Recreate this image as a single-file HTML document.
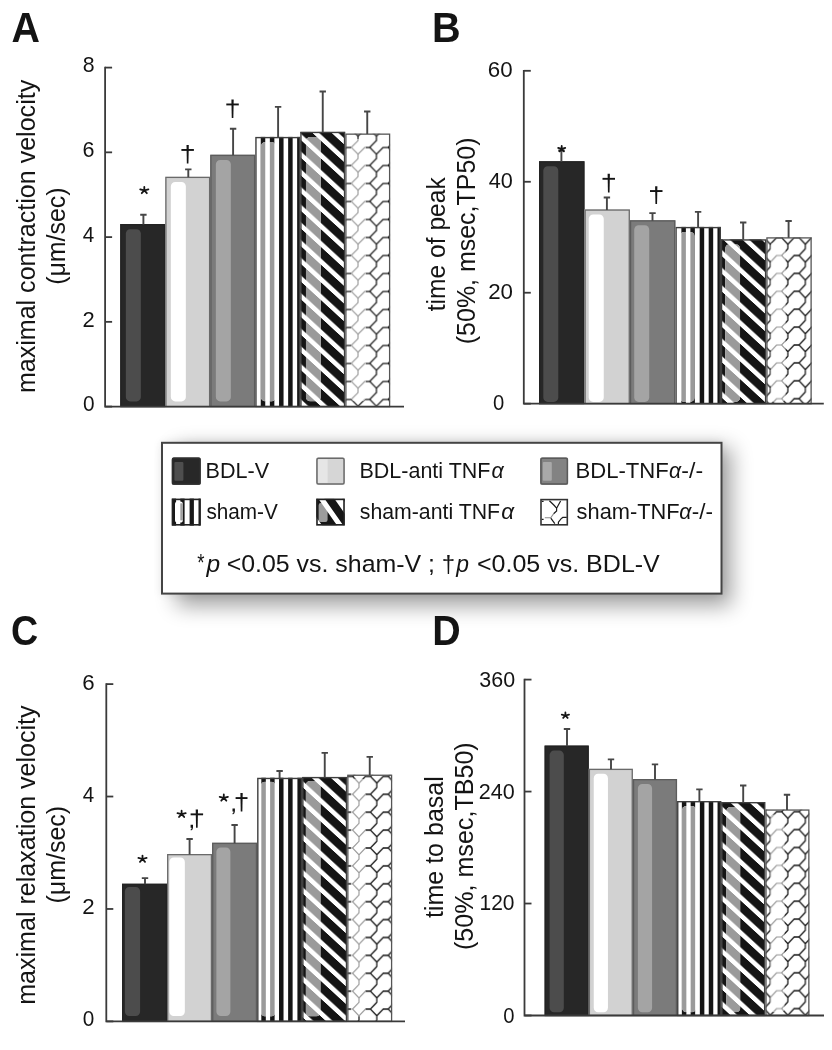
<!DOCTYPE html>
<html><head><meta charset="utf-8"><title>figure</title>
<style>
html,body{margin:0;padding:0;background:#fff;}
body{width:832px;height:1050px;overflow:hidden;}
svg{display:block;will-change:transform;}
text{font-family:"Liberation Sans", sans-serif;fill:#141414;}
</style></head><body>
<svg width="832" height="1050" viewBox="0 0 832 1050">
<defs><clipPath id="c1"><path d="M265.25,142.1H271.45A4.4,4.4 0 0 1 275.85,146.5V397A4.4,4.4 0 0 1 271.45,401.4H265.25A4.4,4.4 0 0 1 260.85,397V146.5A4.4,4.4 0 0 1 265.25,142.1Z"/></clipPath><clipPath id="c2"><rect x="300.25" y="131.75" width="45" height="274.85"/></clipPath><pattern id="dp3" patternUnits="userSpaceOnUse" width="19.24" height="17.7" patternTransform="translate(300.25,121.75) skewY(42.61)"><rect x="0" y="0" width="19.24" height="11.4" fill="#151515"/></pattern><pattern id="dp4" patternUnits="userSpaceOnUse" width="19.24" height="17.7" patternTransform="translate(300.25,121.75) skewY(42.61)"><rect x="0" y="0" width="19.24" height="11.4" fill="#9a9a9a"/></pattern><clipPath id="c5"><path d="M310.25,136.95H316.45A4.4,4.4 0 0 1 320.85,141.35V397A4.4,4.4 0 0 1 316.45,401.4H310.25A4.4,4.4 0 0 1 305.85,397V141.35A4.4,4.4 0 0 1 310.25,136.95Z"/></clipPath><clipPath id="c6"><rect x="345.25" y="133.5" width="45" height="273.1"/></clipPath><pattern id="lp7" patternUnits="userSpaceOnUse" width="18.4" height="18" patternTransform="translate(358.05,309.4)"><path d="M6.7,0H11.7M6.7,18H11.7M0,6.8V11.2M18.4,6.8V11.2M11.7,0L18.4,6.8M6.7,0L0,6.8M11.7,18L18.4,11.2" stroke="#151515" stroke-width="1.25" fill="none" stroke-linecap="square"/></pattern><pattern id="lp8" patternUnits="userSpaceOnUse" width="18.4" height="18" patternTransform="translate(358.05,309.4)"><path d="M6.7,0H11.7M6.7,18H11.7M0,6.8V11.2M18.4,6.8V11.2M11.7,0L18.4,6.8M6.7,0L0,6.8M11.7,18L18.4,11.2" stroke="#969696" stroke-width="1.1" fill="none" stroke-linecap="square"/></pattern><clipPath id="c9"><path d="M355.25,138.7H361.45A4.4,4.4 0 0 1 365.85,143.1V397A4.4,4.4 0 0 1 361.45,401.4H355.25A4.4,4.4 0 0 1 350.85,397V143.1A4.4,4.4 0 0 1 355.25,138.7Z"/></clipPath><clipPath id="c10"><path d="M684.08,231.9H690.28A4.4,4.4 0 0 1 694.68,236.3V397.5A4.4,4.4 0 0 1 690.28,401.9H684.08A4.4,4.4 0 0 1 679.68,397.5V236.3A4.4,4.4 0 0 1 684.08,231.9Z"/></clipPath><clipPath id="c11"><rect x="720.84" y="239.25" width="45.46" height="164.45"/></clipPath><pattern id="dp12" patternUnits="userSpaceOnUse" width="19.24" height="17.7" patternTransform="translate(720.84,237.55) skewY(42.61)"><rect x="0" y="0" width="19.24" height="11.4" fill="#151515"/></pattern><pattern id="dp13" patternUnits="userSpaceOnUse" width="19.24" height="17.7" patternTransform="translate(720.84,237.55) skewY(42.61)"><rect x="0" y="0" width="19.24" height="11.4" fill="#9a9a9a"/></pattern><clipPath id="c14"><path d="M729.54,244.25H735.74A4.4,4.4 0 0 1 740.14,248.65V397.5A4.4,4.4 0 0 1 735.74,401.9H729.54A4.4,4.4 0 0 1 725.14,397.5V248.65A4.4,4.4 0 0 1 729.54,244.25Z"/></clipPath><clipPath id="c15"><rect x="766.3" y="237.25" width="45.46" height="166.45"/></clipPath><pattern id="lp16" patternUnits="userSpaceOnUse" width="17.5" height="17.9" patternTransform="translate(787.85,309.2)"><path d="M6.25,0H11.25M6.25,17.9H11.25M0,6.75V11.15M17.5,6.75V11.15M11.25,0L17.5,6.75M6.25,0L0,6.75M11.25,17.9L17.5,11.15" stroke="#151515" stroke-width="1.25" fill="none" stroke-linecap="square"/></pattern><pattern id="lp17" patternUnits="userSpaceOnUse" width="17.5" height="17.9" patternTransform="translate(787.85,309.2)"><path d="M6.25,0H11.25M6.25,17.9H11.25M0,6.75V11.15M17.5,6.75V11.15M11.25,0L17.5,6.75M6.25,0L0,6.75M11.25,17.9L17.5,11.15" stroke="#969696" stroke-width="1.1" fill="none" stroke-linecap="square"/></pattern><clipPath id="c18"><path d="M775,242.25H781.2A4.4,4.4 0 0 1 785.6,246.65V397.5A4.4,4.4 0 0 1 781.2,401.9H775A4.4,4.4 0 0 1 770.6,397.5V246.65A4.4,4.4 0 0 1 775,242.25Z"/></clipPath><clipPath id="c19"><path d="M265.02,781.75H271.22A4.4,4.4 0 0 1 275.62,786.15V1012A4.4,4.4 0 0 1 271.22,1016.4H265.02A4.4,4.4 0 0 1 260.62,1012V786.15A4.4,4.4 0 0 1 265.02,781.75Z"/></clipPath><clipPath id="c20"><rect x="302.16" y="776.9" width="45.04" height="244.5"/></clipPath><pattern id="dp21" patternUnits="userSpaceOnUse" width="19.24" height="17.7" patternTransform="translate(302.16,769.1) skewY(42.61)"><rect x="0" y="0" width="19.24" height="11.4" fill="#151515"/></pattern><pattern id="dp22" patternUnits="userSpaceOnUse" width="19.24" height="17.7" patternTransform="translate(302.16,769.1) skewY(42.61)"><rect x="0" y="0" width="19.24" height="11.4" fill="#9a9a9a"/></pattern><clipPath id="c23"><path d="M310.06,780.9H316.26A4.4,4.4 0 0 1 320.66,785.3V1012A4.4,4.4 0 0 1 316.26,1016.4H310.06A4.4,4.4 0 0 1 305.66,1012V785.3A4.4,4.4 0 0 1 310.06,780.9Z"/></clipPath><clipPath id="c24"><rect x="347.2" y="774.6" width="45.04" height="246.8"/></clipPath><pattern id="lp25" patternUnits="userSpaceOnUse" width="17.8" height="17.9" patternTransform="translate(359,901.7)"><path d="M6.4,0H11.4M6.4,17.9H11.4M0,6.75V11.15M17.8,6.75V11.15M11.4,0L17.8,6.75M6.4,0L0,6.75M11.4,17.9L17.8,11.15" stroke="#151515" stroke-width="1.25" fill="none" stroke-linecap="square"/></pattern><pattern id="lp26" patternUnits="userSpaceOnUse" width="17.8" height="17.9" patternTransform="translate(359,901.7)"><path d="M6.4,0H11.4M6.4,17.9H11.4M0,6.75V11.15M17.8,6.75V11.15M11.4,0L17.8,6.75M6.4,0L0,6.75M11.4,17.9L17.8,11.15" stroke="#969696" stroke-width="1.1" fill="none" stroke-linecap="square"/></pattern><clipPath id="c27"><path d="M355.1,778.6H361.3A4.4,4.4 0 0 1 365.7,783V1012A4.4,4.4 0 0 1 361.3,1016.4H355.1A4.4,4.4 0 0 1 350.7,1012V783A4.4,4.4 0 0 1 355.1,778.6Z"/></clipPath><clipPath id="c28"><path d="M686.45,806H691.85A4.4,4.4 0 0 1 696.25,810.4V1007.8A4.4,4.4 0 0 1 691.85,1012.2H686.45A4.4,4.4 0 0 1 682.05,1007.8V810.4A4.4,4.4 0 0 1 686.45,806Z"/></clipPath><clipPath id="c29"><rect x="721.2" y="802" width="44.15" height="213.5"/></clipPath><pattern id="dp30" patternUnits="userSpaceOnUse" width="19.24" height="17.7" patternTransform="translate(721.2,794.2) skewY(42.61)"><rect x="0" y="0" width="19.24" height="11.4" fill="#151515"/></pattern><pattern id="dp31" patternUnits="userSpaceOnUse" width="19.24" height="17.7" patternTransform="translate(721.2,794.2) skewY(42.61)"><rect x="0" y="0" width="19.24" height="11.4" fill="#9a9a9a"/></pattern><clipPath id="c32"><path d="M730.6,807H736A4.4,4.4 0 0 1 740.4,811.4V1007.8A4.4,4.4 0 0 1 736,1012.2H730.6A4.4,4.4 0 0 1 726.2,1007.8V811.4A4.4,4.4 0 0 1 730.6,807Z"/></clipPath><clipPath id="c33"><rect x="765.35" y="809.4" width="44.15" height="206.1"/></clipPath><pattern id="lp34" patternUnits="userSpaceOnUse" width="17.5" height="17.9" patternTransform="translate(787.85,847.5)"><path d="M6.25,0H11.25M6.25,17.9H11.25M0,6.75V11.15M17.5,6.75V11.15M11.25,0L17.5,6.75M6.25,0L0,6.75M11.25,17.9L17.5,11.15" stroke="#151515" stroke-width="1.25" fill="none" stroke-linecap="square"/></pattern><pattern id="lp35" patternUnits="userSpaceOnUse" width="17.5" height="17.9" patternTransform="translate(787.85,847.5)"><path d="M6.25,0H11.25M6.25,17.9H11.25M0,6.75V11.15M17.5,6.75V11.15M11.25,0L17.5,6.75M6.25,0L0,6.75M11.25,17.9L17.5,11.15" stroke="#969696" stroke-width="1.1" fill="none" stroke-linecap="square"/></pattern><clipPath id="c36"><path d="M774.75,814.4H780.15A4.4,4.4 0 0 1 784.55,818.8V1007.8A4.4,4.4 0 0 1 780.15,1012.2H774.75A4.4,4.4 0 0 1 770.35,1007.8V818.8A4.4,4.4 0 0 1 774.75,814.4Z"/></clipPath><filter id="shadow" x="-20%" y="-40%" width="150%" height="200%"><feGaussianBlur stdDeviation="10.5"/></filter><filter id="glow" x="-20%" y="-40%" width="150%" height="200%"><feGaussianBlur stdDeviation="5"/></filter><clipPath id="c37"><rect x="316.2" y="498.6" width="28.6" height="27"/></clipPath></defs>
<rect width="832" height="1050" fill="#fff"/>
<rect x="120.25" y="224" width="45" height="182.6" fill="#272727"/><path d="M130.25,229.2H136.45A4.4,4.4 0 0 1 140.85,233.6V397A4.4,4.4 0 0 1 136.45,401.4H130.25A4.4,4.4 0 0 1 125.85,397V233.6A4.4,4.4 0 0 1 130.25,229.2Z" fill="#4c4c4c"/><rect x="120.9" y="224.65" width="43.7" height="181.95" fill="none" stroke="#232323" stroke-width="1.3"/><rect x="165.25" y="176.75" width="45" height="229.85" fill="#d2d2d2"/><path d="M175.25,181.95H181.45A4.4,4.4 0 0 1 185.85,186.35V397A4.4,4.4 0 0 1 181.45,401.4H175.25A4.4,4.4 0 0 1 170.85,397V186.35A4.4,4.4 0 0 1 175.25,181.95Z" fill="#ffffff"/><rect x="165.9" y="177.4" width="43.7" height="229.2" fill="none" stroke="#6a6a6a" stroke-width="1.3"/><rect x="210.25" y="154.75" width="45" height="251.85" fill="#7b7b7b"/><path d="M220.25,159.95H226.45A4.4,4.4 0 0 1 230.85,164.35V397A4.4,4.4 0 0 1 226.45,401.4H220.25A4.4,4.4 0 0 1 215.85,397V164.35A4.4,4.4 0 0 1 220.25,159.95Z" fill="#a4a4a4"/><rect x="210.9" y="155.4" width="43.7" height="251.2" fill="none" stroke="#5c5c5c" stroke-width="1.3"/><rect x="255.25" y="136.9" width="45" height="269.7" fill="#fff"/><rect x="260.75" y="136.9" width="4.5" height="269.7" fill="#151515"/><rect x="269.85" y="136.9" width="4.5" height="269.7" fill="#151515"/><rect x="279.05" y="136.9" width="4.5" height="269.7" fill="#151515"/><rect x="288.15" y="136.9" width="4.5" height="269.7" fill="#151515"/><rect x="297.15" y="136.9" width="3.1" height="269.7" fill="#151515"/><g clip-path="url(#c1)"><rect x="260.85" y="142.1" width="15" height="259.3" fill="#fff"/><rect x="260.75" y="136.9" width="4.5" height="269.7" fill="#9a9a9a"/><rect x="269.85" y="136.9" width="4.5" height="269.7" fill="#9a9a9a"/><rect x="279.05" y="136.9" width="4.5" height="269.7" fill="#9a9a9a"/><rect x="288.15" y="136.9" width="4.5" height="269.7" fill="#9a9a9a"/><rect x="297.15" y="136.9" width="3.1" height="269.7" fill="#9a9a9a"/></g><rect x="255.95" y="137.6" width="43.6" height="269" fill="none" stroke="#3e3e3e" stroke-width="1.4"/><g clip-path="url(#c2)"><rect x="300.25" y="131.75" width="45" height="274.85" fill="#fff"/><rect x="300.25" y="131.75" width="45" height="274.85" fill="url(#dp3)"/></g><g clip-path="url(#c5)"><rect x="305.85" y="136.95" width="15" height="264.45" fill="#fff"/><rect x="305.85" y="136.95" width="15" height="264.45" fill="url(#dp4)"/></g><rect x="300.95" y="132.45" width="43.6" height="274.15" fill="none" stroke="#3e3e3e" stroke-width="1.4"/><g clip-path="url(#c6)"><rect x="345.25" y="133.5" width="45" height="273.1" fill="#fff"/><rect x="345.25" y="133.5" width="45" height="273.1" fill="url(#lp7)"/></g><g clip-path="url(#c9)"><rect x="350.85" y="138.7" width="15" height="262.7" fill="#fff"/><rect x="350.85" y="138.7" width="15" height="262.7" fill="url(#lp8)"/></g><rect x="345.9" y="134.15" width="43.7" height="272.45" fill="none" stroke="#555" stroke-width="1.3"/><path d="M143.4,224.6V214.8M140.2,214.8H146.6" stroke="#464646" stroke-width="1.9" fill="none"/><path d="M188.3,177.35V169.4M185.1,169.4H191.5" stroke="#464646" stroke-width="1.9" fill="none"/><path d="M233.1,155.35V128.75M229.9,128.75H236.3" stroke="#464646" stroke-width="1.9" fill="none"/><path d="M278.1,137.5V106.9M274.9,106.9H281.3" stroke="#464646" stroke-width="1.9" fill="none"/><path d="M322.75,132.35V91.5M319.55,91.5H325.95" stroke="#464646" stroke-width="1.9" fill="none"/><path d="M367.25,134.1V111.5M364.05,111.5H370.45" stroke="#464646" stroke-width="1.9" fill="none"/><path d="M105.1,66.7V406.6H404" stroke="#3a3a3a" stroke-width="1.8" fill="none"/><path d="M105.1,406.6H112.1" stroke="#3a3a3a" stroke-width="1.8"/><path d="M105.1,321.85H112.1" stroke="#3a3a3a" stroke-width="1.8"/><path d="M105.1,237.1H112.1" stroke="#3a3a3a" stroke-width="1.8"/><path d="M105.1,152.35H112.1" stroke="#3a3a3a" stroke-width="1.8"/><path d="M105.1,67.6H112.1" stroke="#3a3a3a" stroke-width="1.8"/><text x="82.69" y="72.2" font-size="22.5" font-family='"Liberation Sans", sans-serif' textLength="11.83" lengthAdjust="spacingAndGlyphs">8</text><text x="82.57" y="156.7" font-size="22.5" font-family='"Liberation Sans", sans-serif' textLength="11.96" lengthAdjust="spacingAndGlyphs">6</text><text x="82.84" y="241.6" font-size="22.5" font-family='"Liberation Sans", sans-serif' textLength="11.45" lengthAdjust="spacingAndGlyphs">4</text><text x="82.55" y="326.6" font-size="22.5" font-family='"Liberation Sans", sans-serif' textLength="12.22" lengthAdjust="spacingAndGlyphs">2</text><text x="82.92" y="411" font-size="22.5" font-family='"Liberation Sans", sans-serif' textLength="11.59" lengthAdjust="spacingAndGlyphs">0</text><text transform="translate(35,391.9) rotate(-90)" x="-1.23" y="0" font-size="25" font-family='"Liberation Sans", sans-serif' textLength="313.32" lengthAdjust="spacingAndGlyphs">maximal contraction velocity</text><text transform="translate(65,283.75) rotate(-90)" x="-1.09" y="0" font-size="25" font-family='"Liberation Sans", sans-serif' textLength="97.29" lengthAdjust="spacingAndGlyphs">(μm/sec)</text><text x="11.41" y="41.5" font-size="43.2" font-family='"Liberation Sans", sans-serif' font-weight="bold" textLength="28.46" lengthAdjust="spacingAndGlyphs" fill="#1e1e1e">A</text><path d="M144.3,190.4L144.3,186.96M144.3,190.4L148.41,189.34M144.3,190.4L146.84,193.18M144.3,190.4L141.76,193.18M144.3,190.4L140.19,189.34" stroke="#141414" stroke-width="1.8" stroke-linecap="round" fill="none"/><path d="M186.5,144.9h2.3l-0.35,18.7h-1.6z" fill="#141414"/><path d="M181.4,149.95H193.9" stroke="#141414" stroke-width="1.9" fill="none"/><path d="M231.4,99.4h2.3l-0.35,18.7h-1.6z" fill="#141414"/><path d="M226.3,104.45H238.8" stroke="#141414" stroke-width="1.9" fill="none"/><rect x="539" y="161.25" width="45.46" height="242.45" fill="#272727"/><path d="M547.7,166.25H553.9A4.4,4.4 0 0 1 558.3,170.65V397.5A4.4,4.4 0 0 1 553.9,401.9H547.7A4.4,4.4 0 0 1 543.3,397.5V170.65A4.4,4.4 0 0 1 547.7,166.25Z" fill="#4c4c4c"/><rect x="539.65" y="161.9" width="44.16" height="241.8" fill="none" stroke="#232323" stroke-width="1.3"/><rect x="584.46" y="209.4" width="45.46" height="194.3" fill="#d2d2d2"/><path d="M593.16,214.4H599.36A4.4,4.4 0 0 1 603.76,218.8V397.5A4.4,4.4 0 0 1 599.36,401.9H593.16A4.4,4.4 0 0 1 588.76,397.5V218.8A4.4,4.4 0 0 1 593.16,214.4Z" fill="#ffffff"/><rect x="585.11" y="210.05" width="44.16" height="193.65" fill="none" stroke="#6a6a6a" stroke-width="1.3"/><rect x="629.92" y="220.25" width="45.46" height="183.45" fill="#7b7b7b"/><path d="M638.62,225.25H644.82A4.4,4.4 0 0 1 649.22,229.65V397.5A4.4,4.4 0 0 1 644.82,401.9H638.62A4.4,4.4 0 0 1 634.22,397.5V229.65A4.4,4.4 0 0 1 638.62,225.25Z" fill="#a4a4a4"/><rect x="630.57" y="220.9" width="44.16" height="182.8" fill="none" stroke="#5c5c5c" stroke-width="1.3"/><rect x="675.38" y="226.9" width="45.46" height="176.8" fill="#fff"/><rect x="681.38" y="226.9" width="4.5" height="176.8" fill="#151515"/><rect x="690.38" y="226.9" width="4.5" height="176.8" fill="#151515"/><rect x="699.68" y="226.9" width="4.5" height="176.8" fill="#151515"/><rect x="708.68" y="226.9" width="4.5" height="176.8" fill="#151515"/><rect x="717.48" y="226.9" width="3.36" height="176.8" fill="#151515"/><g clip-path="url(#c10)"><rect x="679.68" y="231.9" width="15" height="170" fill="#fff"/><rect x="681.38" y="226.9" width="4.5" height="176.8" fill="#9a9a9a"/><rect x="690.38" y="226.9" width="4.5" height="176.8" fill="#9a9a9a"/><rect x="699.68" y="226.9" width="4.5" height="176.8" fill="#9a9a9a"/><rect x="708.68" y="226.9" width="4.5" height="176.8" fill="#9a9a9a"/><rect x="717.48" y="226.9" width="3.36" height="176.8" fill="#9a9a9a"/></g><rect x="676.08" y="227.6" width="44.06" height="176.1" fill="none" stroke="#3e3e3e" stroke-width="1.4"/><g clip-path="url(#c11)"><rect x="720.84" y="239.25" width="45.46" height="164.45" fill="#fff"/><rect x="720.84" y="239.25" width="45.46" height="164.45" fill="url(#dp12)"/></g><g clip-path="url(#c14)"><rect x="725.14" y="244.25" width="15" height="157.65" fill="#fff"/><rect x="725.14" y="244.25" width="15" height="157.65" fill="url(#dp13)"/></g><rect x="721.54" y="239.95" width="44.06" height="163.75" fill="none" stroke="#3e3e3e" stroke-width="1.4"/><g clip-path="url(#c15)"><rect x="766.3" y="237.25" width="45.46" height="166.45" fill="#fff"/><rect x="766.3" y="237.25" width="45.46" height="166.45" fill="url(#lp16)"/></g><g clip-path="url(#c18)"><rect x="770.6" y="242.25" width="15" height="159.65" fill="#fff"/><rect x="770.6" y="242.25" width="15" height="159.65" fill="url(#lp17)"/></g><rect x="766.95" y="237.9" width="44.16" height="165.8" fill="none" stroke="#555" stroke-width="1.3"/><path d="M561.4,161.85V150.5M558.2,150.5H564.6" stroke="#464646" stroke-width="1.9" fill="none"/><path d="M606.9,210V197.5M603.7,197.5H610.1" stroke="#464646" stroke-width="1.9" fill="none"/><path d="M652.5,220.85V213.1M649.3,213.1H655.7" stroke="#464646" stroke-width="1.9" fill="none"/><path d="M698.1,227.5V211.9M694.9,211.9H701.3" stroke="#464646" stroke-width="1.9" fill="none"/><path d="M743.2,239.85V222.5M740,222.5H746.4" stroke="#464646" stroke-width="1.9" fill="none"/><path d="M788.6,237.85V221M785.4,221H791.8" stroke="#464646" stroke-width="1.9" fill="none"/><path d="M523.8,69.9V403.7H823.8" stroke="#3a3a3a" stroke-width="1.8" fill="none"/><path d="M523.8,403.7H530.8" stroke="#3a3a3a" stroke-width="1.8"/><path d="M523.8,292.73H530.8" stroke="#3a3a3a" stroke-width="1.8"/><path d="M523.8,181.77H530.8" stroke="#3a3a3a" stroke-width="1.8"/><path d="M523.8,70.8H530.8" stroke="#3a3a3a" stroke-width="1.8"/><text x="487.79" y="77.2" font-size="22.5" font-family='"Liberation Sans", sans-serif' textLength="24.8" lengthAdjust="spacingAndGlyphs">60</text><text x="488.82" y="187.8" font-size="22.5" font-family='"Liberation Sans", sans-serif' textLength="24.09" lengthAdjust="spacingAndGlyphs">40</text><text x="488.14" y="299.3" font-size="22.5" font-family='"Liberation Sans", sans-serif' textLength="24.8" lengthAdjust="spacingAndGlyphs">20</text><text x="493.09" y="409.7" font-size="22.5" font-family='"Liberation Sans", sans-serif' textLength="11.24" lengthAdjust="spacingAndGlyphs">0</text><text transform="translate(445.4,311.25) rotate(-90)" x="0.03" y="0" font-size="25" font-family='"Liberation Sans", sans-serif' textLength="133.98" lengthAdjust="spacingAndGlyphs">time of peak</text><text transform="translate(475,343.1) rotate(-90)" x="-1.1" y="0" font-size="25" font-family='"Liberation Sans", sans-serif' textLength="206.68" lengthAdjust="spacingAndGlyphs">(50%, msec,TP50)</text><text x="432.12" y="41.5" font-size="43.2" font-family='"Liberation Sans", sans-serif' font-weight="bold" textLength="28.65" lengthAdjust="spacingAndGlyphs" fill="#1e1e1e">B</text><path d="M561.7,148.9L561.7,145.94M561.7,148.9L565.23,147.99M561.7,148.9L563.88,151.29M561.7,148.9L559.52,151.29M561.7,148.9L558.17,147.99" stroke="#141414" stroke-width="1.8" stroke-linecap="round" fill="none"/><path d="M607.6,173.75h2.3l-0.35,18.75h-1.6z" fill="#141414"/><path d="M602.5,178.81H615" stroke="#141414" stroke-width="1.9" fill="none"/><path d="M655.1,186.25h2.3l-0.35,17.75h-1.6z" fill="#141414"/><path d="M650,191.04H662.5" stroke="#141414" stroke-width="1.9" fill="none"/><rect x="122" y="883.75" width="45.04" height="137.65" fill="#272727"/><path d="M129.3,886.95H135.7A4.4,4.4 0 0 1 140.1,891.35V1011.6A4.4,4.4 0 0 1 135.7,1016H129.3A4.4,4.4 0 0 1 124.9,1011.6V891.35A4.4,4.4 0 0 1 129.3,886.95Z" fill="#4c4c4c"/><rect x="122.65" y="884.4" width="43.74" height="137" fill="none" stroke="#232323" stroke-width="1.3"/><rect x="167.04" y="854" width="45.04" height="167.4" fill="#d2d2d2"/><path d="M173.74,857.5H180.44A4.4,4.4 0 0 1 184.84,861.9V1011.6A4.4,4.4 0 0 1 180.44,1016H173.74A4.4,4.4 0 0 1 169.34,1011.6V861.9A4.4,4.4 0 0 1 173.74,857.5Z" fill="#ffffff"/><rect x="167.69" y="854.65" width="43.74" height="166.75" fill="none" stroke="#6a6a6a" stroke-width="1.3"/><rect x="212.08" y="842.75" width="45.04" height="178.65" fill="#7b7b7b"/><path d="M220.78,847.45H225.98A4.4,4.4 0 0 1 230.38,851.85V1011.6A4.4,4.4 0 0 1 225.98,1016H220.78A4.4,4.4 0 0 1 216.38,1011.6V851.85A4.4,4.4 0 0 1 220.78,847.45Z" fill="#a4a4a4"/><rect x="212.73" y="843.4" width="43.74" height="178" fill="none" stroke="#5c5c5c" stroke-width="1.3"/><rect x="257.12" y="777.75" width="45.04" height="243.65" fill="#fff"/><rect x="261.32" y="777.75" width="4.5" height="243.65" fill="#151515"/><rect x="270.12" y="777.75" width="4.5" height="243.65" fill="#151515"/><rect x="279.02" y="777.75" width="4.5" height="243.65" fill="#151515"/><rect x="288.12" y="777.75" width="4.5" height="243.65" fill="#151515"/><rect x="297.42" y="777.75" width="4.5" height="243.65" fill="#151515"/><g clip-path="url(#c19)"><rect x="260.62" y="781.75" width="15" height="234.65" fill="#fff"/><rect x="261.32" y="777.75" width="4.5" height="243.65" fill="#9a9a9a"/><rect x="270.12" y="777.75" width="4.5" height="243.65" fill="#9a9a9a"/><rect x="279.02" y="777.75" width="4.5" height="243.65" fill="#9a9a9a"/><rect x="288.12" y="777.75" width="4.5" height="243.65" fill="#9a9a9a"/><rect x="297.42" y="777.75" width="4.5" height="243.65" fill="#9a9a9a"/></g><rect x="257.82" y="778.45" width="43.64" height="242.95" fill="none" stroke="#3e3e3e" stroke-width="1.4"/><g clip-path="url(#c20)"><rect x="302.16" y="776.9" width="45.04" height="244.5" fill="#fff"/><rect x="302.16" y="776.9" width="45.04" height="244.5" fill="url(#dp21)"/></g><g clip-path="url(#c23)"><rect x="305.66" y="780.9" width="15" height="235.5" fill="#fff"/><rect x="305.66" y="780.9" width="15" height="235.5" fill="url(#dp22)"/></g><rect x="302.86" y="777.6" width="43.64" height="243.8" fill="none" stroke="#3e3e3e" stroke-width="1.4"/><g clip-path="url(#c24)"><rect x="347.2" y="774.6" width="45.04" height="246.8" fill="#fff"/><rect x="347.2" y="774.6" width="45.04" height="246.8" fill="url(#lp25)"/></g><g clip-path="url(#c27)"><rect x="350.7" y="778.6" width="15" height="237.8" fill="#fff"/><rect x="350.7" y="778.6" width="15" height="237.8" fill="url(#lp26)"/></g><rect x="347.85" y="775.25" width="43.74" height="246.15" fill="none" stroke="#555" stroke-width="1.3"/><path d="M145,884.35V878.1M141.8,878.1H148.2" stroke="#464646" stroke-width="1.9" fill="none"/><path d="M189.6,854.6V839M186.4,839H192.8" stroke="#464646" stroke-width="1.9" fill="none"/><path d="M234.6,843.35V825M231.4,825H237.8" stroke="#464646" stroke-width="1.9" fill="none"/><path d="M279.6,778.35V771M276.4,771H282.8" stroke="#464646" stroke-width="1.9" fill="none"/><path d="M324.75,777.5V752.9M321.55,752.9H327.95" stroke="#464646" stroke-width="1.9" fill="none"/><path d="M369.75,775.2V756.9M366.55,756.9H372.95" stroke="#464646" stroke-width="1.9" fill="none"/><path d="M106.3,683.2V1021.4H405" stroke="#3a3a3a" stroke-width="1.8" fill="none"/><path d="M106.3,1021.4H113.3" stroke="#3a3a3a" stroke-width="1.8"/><path d="M106.3,908.97H113.3" stroke="#3a3a3a" stroke-width="1.8"/><path d="M106.3,796.53H113.3" stroke="#3a3a3a" stroke-width="1.8"/><path d="M106.3,684.1H113.3" stroke="#3a3a3a" stroke-width="1.8"/><text x="82.14" y="689.7" font-size="22.5" font-family='"Liberation Sans", sans-serif' textLength="12.38" lengthAdjust="spacingAndGlyphs">6</text><text x="82.84" y="801.6" font-size="22.5" font-family='"Liberation Sans", sans-serif' textLength="11.4" lengthAdjust="spacingAndGlyphs">4</text><text x="82.33" y="914.1" font-size="22.5" font-family='"Liberation Sans", sans-serif' textLength="12.41" lengthAdjust="spacingAndGlyphs">2</text><text x="82.82" y="1026.4" font-size="22.5" font-family='"Liberation Sans", sans-serif' textLength="11.53" lengthAdjust="spacingAndGlyphs">0</text><text transform="translate(34.8,1003.6) rotate(-90)" x="-1.23" y="0" font-size="25" font-family='"Liberation Sans", sans-serif' textLength="299.41" lengthAdjust="spacingAndGlyphs">maximal relaxation velocity</text><text transform="translate(64.5,902.4) rotate(-90)" x="-1.1" y="0" font-size="25" font-family='"Liberation Sans", sans-serif' textLength="97.6" lengthAdjust="spacingAndGlyphs">(μm/sec)</text><text x="10.89" y="645.2" font-size="43.2" font-family='"Liberation Sans", sans-serif' font-weight="bold" textLength="27.23" lengthAdjust="spacingAndGlyphs" fill="#1e1e1e">C</text><path d="M142.5,859L142.5,855.56M142.5,859L146.61,857.94M142.5,859L145.04,861.78M142.5,859L139.96,861.78M142.5,859L138.39,857.94" stroke="#141414" stroke-width="1.8" stroke-linecap="round" fill="none"/><path d="M181.6,814.2L181.6,810.76M181.6,814.2L185.71,813.14M181.6,814.2L184.14,816.98M181.6,814.2L179.06,816.98M181.6,814.2L177.49,813.14" stroke="#141414" stroke-width="1.8" stroke-linecap="round" fill="none"/><path d="M190.6,824.8h2.4v2.6q0,2.2 -2.0,3.2l-0.5,-0.8q1.2,-0.6 1.2,-2.0h-1.1z" fill="#141414"/><path d="M195.7,809.4h2.3l-0.35,18.35h-1.6z" fill="#141414"/><path d="M190.6,814.35H203.1" stroke="#141414" stroke-width="1.9" fill="none"/><path d="M223.8,797.9L223.8,794.46M223.8,797.9L227.91,796.84M223.8,797.9L226.34,800.68M223.8,797.9L221.26,800.68M223.8,797.9L219.69,796.84" stroke="#141414" stroke-width="1.8" stroke-linecap="round" fill="none"/><path d="M232.5,808.6h2.4v2.6q0,2.2 -2.0,3.2l-0.5,-0.8q1.2,-0.6 1.2,-2.0h-1.1z" fill="#141414"/><path d="M240.4,793.1h2.3l-0.35,18.4h-1.6z" fill="#141414"/><path d="M235.6,798.07H247.5" stroke="#141414" stroke-width="1.9" fill="none"/><rect x="544.6" y="745.6" width="44.15" height="269.9" fill="#272727"/><path d="M554,750.6H559.4A4.4,4.4 0 0 1 563.8,755V1007.8A4.4,4.4 0 0 1 559.4,1012.2H554A4.4,4.4 0 0 1 549.6,1007.8V755A4.4,4.4 0 0 1 554,750.6Z" fill="#4c4c4c"/><rect x="545.25" y="746.25" width="42.85" height="269.25" fill="none" stroke="#232323" stroke-width="1.3"/><rect x="588.75" y="768.75" width="44.15" height="246.75" fill="#d2d2d2"/><path d="M598.15,773.75H603.55A4.4,4.4 0 0 1 607.95,778.15V1007.8A4.4,4.4 0 0 1 603.55,1012.2H598.15A4.4,4.4 0 0 1 593.75,1007.8V778.15A4.4,4.4 0 0 1 598.15,773.75Z" fill="#ffffff"/><rect x="589.4" y="769.4" width="42.85" height="246.1" fill="none" stroke="#6a6a6a" stroke-width="1.3"/><rect x="632.9" y="779" width="44.15" height="236.5" fill="#7b7b7b"/><path d="M642.3,784H647.7A4.4,4.4 0 0 1 652.1,788.4V1007.8A4.4,4.4 0 0 1 647.7,1012.2H642.3A4.4,4.4 0 0 1 637.9,1007.8V788.4A4.4,4.4 0 0 1 642.3,784Z" fill="#a4a4a4"/><rect x="633.55" y="779.65" width="42.85" height="235.85" fill="none" stroke="#5c5c5c" stroke-width="1.3"/><rect x="677.05" y="801" width="44.15" height="214.5" fill="#fff"/><rect x="681.85" y="801" width="4.5" height="214.5" fill="#151515"/><rect x="690.65" y="801" width="4.5" height="214.5" fill="#151515"/><rect x="699.85" y="801" width="4.5" height="214.5" fill="#151515"/><rect x="708.75" y="801" width="4.5" height="214.5" fill="#151515"/><rect x="717.55" y="801" width="3.65" height="214.5" fill="#151515"/><g clip-path="url(#c28)"><rect x="682.05" y="806" width="14.2" height="206.2" fill="#fff"/><rect x="681.85" y="801" width="4.5" height="214.5" fill="#9a9a9a"/><rect x="690.65" y="801" width="4.5" height="214.5" fill="#9a9a9a"/><rect x="699.85" y="801" width="4.5" height="214.5" fill="#9a9a9a"/><rect x="708.75" y="801" width="4.5" height="214.5" fill="#9a9a9a"/><rect x="717.55" y="801" width="3.65" height="214.5" fill="#9a9a9a"/></g><rect x="677.75" y="801.7" width="42.75" height="213.8" fill="none" stroke="#3e3e3e" stroke-width="1.4"/><g clip-path="url(#c29)"><rect x="721.2" y="802" width="44.15" height="213.5" fill="#fff"/><rect x="721.2" y="802" width="44.15" height="213.5" fill="url(#dp30)"/></g><g clip-path="url(#c32)"><rect x="726.2" y="807" width="14.2" height="205.2" fill="#fff"/><rect x="726.2" y="807" width="14.2" height="205.2" fill="url(#dp31)"/></g><rect x="721.9" y="802.7" width="42.75" height="212.8" fill="none" stroke="#3e3e3e" stroke-width="1.4"/><g clip-path="url(#c33)"><rect x="765.35" y="809.4" width="44.15" height="206.1" fill="#fff"/><rect x="765.35" y="809.4" width="44.15" height="206.1" fill="url(#lp34)"/></g><g clip-path="url(#c36)"><rect x="770.35" y="814.4" width="14.2" height="197.8" fill="#fff"/><rect x="770.35" y="814.4" width="14.2" height="197.8" fill="url(#lp35)"/></g><rect x="766" y="810.05" width="42.85" height="205.45" fill="none" stroke="#555" stroke-width="1.3"/><path d="M567,746.2V729M563.8,729H570.2" stroke="#464646" stroke-width="1.9" fill="none"/><path d="M611,769.35V759.4M607.8,759.4H614.2" stroke="#464646" stroke-width="1.9" fill="none"/><path d="M655,779.6V764.4M651.8,764.4H658.2" stroke="#464646" stroke-width="1.9" fill="none"/><path d="M699.4,801.6V789.4M696.2,789.4H702.6" stroke="#464646" stroke-width="1.9" fill="none"/><path d="M743.2,802.6V785.5M740,785.5H746.4" stroke="#464646" stroke-width="1.9" fill="none"/><path d="M787,810V794.75M783.8,794.75H790.2" stroke="#464646" stroke-width="1.9" fill="none"/><path d="M524.5,678.7V1015.5H824" stroke="#3a3a3a" stroke-width="1.8" fill="none"/><path d="M524.5,1015.5H531.5" stroke="#3a3a3a" stroke-width="1.8"/><path d="M524.5,903.53H531.5" stroke="#3a3a3a" stroke-width="1.8"/><path d="M524.5,791.57H531.5" stroke="#3a3a3a" stroke-width="1.8"/><path d="M524.5,679.6H531.5" stroke="#3a3a3a" stroke-width="1.8"/><text x="479.29" y="687.2" font-size="22.5" font-family='"Liberation Sans", sans-serif' textLength="35.78" lengthAdjust="spacingAndGlyphs">360</text><text x="478.82" y="799.3" font-size="22.5" font-family='"Liberation Sans", sans-serif' textLength="35.96" lengthAdjust="spacingAndGlyphs">240</text><text x="479.48" y="910.4" font-size="22.5" font-family='"Liberation Sans", sans-serif' textLength="34.98" lengthAdjust="spacingAndGlyphs">120</text><text x="503.34" y="1022.7" font-size="22.5" font-family='"Liberation Sans", sans-serif' textLength="11.24" lengthAdjust="spacingAndGlyphs">0</text><text transform="translate(442.9,918.1) rotate(-90)" x="0.02" y="0" font-size="25" font-family='"Liberation Sans", sans-serif' textLength="141.92" lengthAdjust="spacingAndGlyphs">time to basal</text><text transform="translate(472.9,949) rotate(-90)" x="-1.11" y="0" font-size="25" font-family='"Liberation Sans", sans-serif' textLength="207.85" lengthAdjust="spacingAndGlyphs">(50%, msec,TB50)</text><text x="432.14" y="644.8" font-size="43.2" font-family='"Liberation Sans", sans-serif' font-weight="bold" textLength="28.42" lengthAdjust="spacingAndGlyphs" fill="#1e1e1e">D</text><path d="M565.4,715.5L565.4,712.47M565.4,715.5L569.02,714.56M565.4,715.5L567.63,717.95M565.4,715.5L563.17,717.95M565.4,715.5L561.78,714.56" stroke="#141414" stroke-width="1.8" stroke-linecap="round" fill="none"/><rect x="161" y="441.8" width="561.5" height="152.8" fill="#000" opacity="0.08" filter="url(#glow)"/><rect x="176.5" y="447.8" width="554.8" height="158" fill="#000" opacity="0.37" filter="url(#shadow)"/><rect x="162" y="442.8" width="559.5" height="150.8" fill="#fff" stroke="#444" stroke-width="2"/><rect x="171.8" y="457.6" width="28.9" height="27.1" rx="1.5" fill="#282828"/><rect x="174.4" y="462" width="9" height="18.7" rx="1" fill="#4e4e4e"/><rect x="172.55" y="458.35" width="27.4" height="25.6" rx="1.5" fill="none" stroke="#2e2e2e" stroke-width="1.5"/><rect x="316.2" y="457.6" width="28.6" height="27.1" rx="1.5" fill="#d6d6d6"/><rect x="318" y="459.4" width="9.6" height="23.5" fill="#e6e6e6"/><rect x="316.95" y="458.35" width="27.1" height="25.6" rx="1.5" fill="none" stroke="#6a6a6a" stroke-width="1.5"/><rect x="540.2" y="457.6" width="27.9" height="27.1" rx="1.5" fill="#838383"/><rect x="542.8" y="462" width="9" height="18.7" rx="1" fill="#a9a9a9"/><rect x="540.95" y="458.35" width="26.4" height="25.6" rx="1.5" fill="none" stroke="#5a5a5a" stroke-width="1.5"/><rect x="171.8" y="498.6" width="28.9" height="27" fill="#fff"/><rect x="171.8" y="498.6" width="4.3" height="27" fill="#181818"/><rect x="180.3" y="498.6" width="4.3" height="27" fill="#181818"/><rect x="189.6" y="498.6" width="4.3" height="27" fill="#181818"/><rect x="198.5" y="498.6" width="2.2" height="27" fill="#181818"/><path d="M177.6,501.6H180.3A2.6,2.6 0 0 1 182.9,504.2V520A2.6,2.6 0 0 1 180.3,522.6H177.6A2.6,2.6 0 0 1 175,520V504.2A2.6,2.6 0 0 1 177.6,501.6Z" fill="#fff"/><path d="M180.3,503.3h2.6v17.1h-2.6z" fill="#a0a0a0"/><rect x="172.6" y="499.4" width="27.3" height="25.4" fill="none" stroke="#222" stroke-width="1.6"/><g clip-path="url(#c37)"><rect x="316.2" y="498.6" width="28.6" height="27" fill="#161616"/><path d="M320.8,503H325.4A2.2,2.2 0 0 1 327.6,505.2V519.8A2.2,2.2 0 0 1 325.4,522H320.8A2.2,2.2 0 0 1 318.6,519.8V505.2A2.2,2.2 0 0 1 320.8,503Z" fill="#9c9c9c"/><path d="M317.6,497.6H323.8L343.8,526.2H337.6ZM333.6,497.6H341.7L346.2,503.8V515.6ZM314.2,514.1L322.7,526.2H314.2Z" fill="#fff"/></g><rect x="317" y="499.4" width="27" height="25.4" fill="none" stroke="#222" stroke-width="1.6"/><rect x="540.2" y="498.8" width="27.9" height="26.8" fill="#fff"/><path d="M549.4,500.8L554.3,505.5L556.6,508.2V511L553.6,513.8M560.6,501L556.6,508.2M550.8,518.2L554.8,523.7M558.4,524.4V522.2L561.2,518.6L562.8,517.4H566.8M541.8,519.3H543.6M541.8,501.4H543.6" stroke="#1c1c1c" stroke-width="1.2" fill="none"/><path d="M553.6,513.8L550.8,517.8H544.8" stroke="#8a8a8a" stroke-width="1.1" fill="none"/><rect x="541" y="499.6" width="26.3" height="25.2" fill="none" stroke="#333" stroke-width="1.6"/><text x="205.57" y="477.8" font-size="22.3" font-family='"Liberation Sans", sans-serif' textLength="63.54" lengthAdjust="spacingAndGlyphs">BDL-V</text><text x="206.38" y="519" font-size="22.3" font-family='"Liberation Sans", sans-serif' textLength="71.44" lengthAdjust="spacingAndGlyphs">sham-V</text><text x="359.48" y="477.7" font-size="22.3" font-family='"Liberation Sans", sans-serif' textLength="130.97" lengthAdjust="spacingAndGlyphs">BDL-anti TNF</text><text x="491.6" y="477.9" font-size="23" font-family='"Liberation Serif", serif' font-style="italic" textLength="12.25" lengthAdjust="spacingAndGlyphs">α</text><text x="359.76" y="519" font-size="22.3" font-family='"Liberation Sans", sans-serif' textLength="140.28" lengthAdjust="spacingAndGlyphs">sham-anti TNF</text><text x="501.16" y="519.2" font-size="23" font-family='"Liberation Serif", serif' font-style="italic" textLength="12.87" lengthAdjust="spacingAndGlyphs">α</text><text x="575.48" y="477.7" font-size="22.3" font-family='"Liberation Sans", sans-serif' textLength="93.3" lengthAdjust="spacingAndGlyphs">BDL-TNF</text><text x="668.91" y="477.9" font-size="23" font-family='"Liberation Serif", serif' font-style="italic" textLength="12.15" lengthAdjust="spacingAndGlyphs">α</text><text x="681.36" y="477.7" font-size="22.3" font-family='"Liberation Sans", sans-serif' textLength="21.75" lengthAdjust="spacingAndGlyphs">-/-</text><text x="576.6" y="519" font-size="22.3" font-family='"Liberation Sans", sans-serif' textLength="103.03" lengthAdjust="spacingAndGlyphs">sham-TNF</text><text x="679.31" y="519.2" font-size="23" font-family='"Liberation Serif", serif' font-style="italic" textLength="12.15" lengthAdjust="spacingAndGlyphs">α</text><text x="691.79" y="519" font-size="22.3" font-family='"Liberation Sans", sans-serif' textLength="21.2" lengthAdjust="spacingAndGlyphs">-/-</text><text x="197.22" y="571" font-size="24.3" font-family='"Liberation Sans", sans-serif' textLength="7.24" lengthAdjust="spacingAndGlyphs">*</text><text x="206.61" y="571.8" font-size="24.3" font-family='"Liberation Sans", sans-serif' font-style="italic" textLength="13.65" lengthAdjust="spacingAndGlyphs">p</text><text x="226.65" y="571.8" font-size="24.3" font-family='"Liberation Sans", sans-serif' textLength="208.38" lengthAdjust="spacingAndGlyphs">&lt;0.05 vs. sham-V ;</text><text x="441.74" y="571.8" font-size="24.3" font-family='"Liberation Sans", sans-serif' textLength="13.35" lengthAdjust="spacingAndGlyphs">†</text><text x="456.37" y="571.8" font-size="24.3" font-family='"Liberation Sans", sans-serif' font-style="italic" textLength="12.74" lengthAdjust="spacingAndGlyphs">p</text><text x="476.95" y="571.8" font-size="24.3" font-family='"Liberation Sans", sans-serif' textLength="182.88" lengthAdjust="spacingAndGlyphs">&lt;0.05 vs. BDL-V</text>
</svg>
</body></html>
